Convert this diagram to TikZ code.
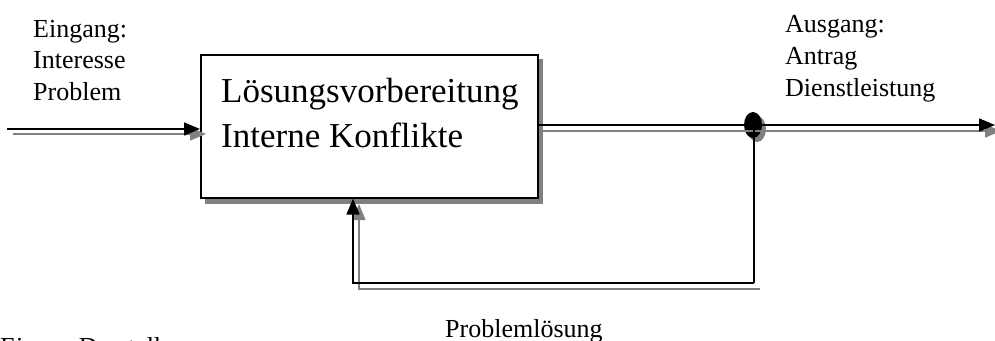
\documentclass[tikz,border=0pt]{standalone}
\usepackage{fontspec}
\setmainfont{Liberation Serif}
\usetikzlibrary{arrows.meta,shapes.geometric}
\begin{document}
\begin{tikzpicture}[x=1pt,y=-1pt,
  line/.style={draw=black,line width=1.6pt},
  shade/.style={draw=black!50,line width=1.4pt},
  tipk/.style={-{Triangle[length=16pt,width=13pt]}},
  lbl/.style={font=\fontsize{26}{31}\selectfont,anchor=base west,inner sep=0pt},
  boxtext/.style={font=\fontsize{35}{40}\selectfont,anchor=base west,inner sep=0pt}]
\useasboundingbox (0,0) rectangle (995,340);
\clip (0,0) rectangle (995,340);

% process box with its drop shadow
\fill[black!50] (205,59) rectangle (543,204);
\node[draw=black,line width=1.6pt,fill=white,minimum width=337pt,minimum height=143pt,
      inner sep=0pt,anchor=north west] (box) at (200,54) {};
\node[boxtext] (t1) at (221,102) {Lösungsvorbereitung};
\node[boxtext] (t2) at (221,147) {Interne Konflikte};

% input
\coordinate (inA) at (7,129);
\coordinate (inB) at (13,134);
\coordinate (inBe) at (206,134);
\draw[shade,tipk] (inB) -- (inBe);
\draw[line,tipk] (inA) -- (box.west |- inA);

% branching point
\fill[black!50] (757,129) ellipse (9 and 13);
\node[ellipse,fill=black,minimum width=18pt,minimum height=26pt,inner sep=0pt] (dot) at (753,125) {};

% output
\coordinate (outB) at (542,131);
\coordinate (outBe) at (1001,131);
\coordinate (outA) at (995,125);
\draw[shade,tipk] (outB) -- (outBe);
\draw[line] (box.east |- outA) -- (dot);
\draw[line,tipk] (dot) -- (outA);

% feedback loop
\coordinate (fbA0) at (754,125);
\coordinate (fbA1) at (754,283);
\coordinate (fbA2) at (353,283);
\coordinate (fbB0) at (760,289);
\coordinate (fbB1) at (359,289);
\coordinate (fbBe) at (359,204);
\draw[shade,tipk] (fbB0) -- (fbB1) -- (fbBe);
\draw[line] (fbA0) -- (fbA1);
\draw[line,tipk] (fbA1) -- (fbA2) -- (fbA2 |- box.south);

% labels
\node[lbl] (in1) at (33,37) {Eingang:};
\node[lbl] (in2) at (33,68) {Interesse};
\node[lbl] (in3) at (33,100) {Problem};
\node[lbl] (out1) at (785,32) {Ausgang:};
\node[lbl] (out2) at (785,64) {Antrag};
\node[lbl] (out3) at (785,96) {Dienstleistung};
\node[lbl] (fb) at (445,337) {Problemlösung};
\node[lbl] (src) at (0,355) {Eigene Darstellung};
\end{tikzpicture}
\end{document}
